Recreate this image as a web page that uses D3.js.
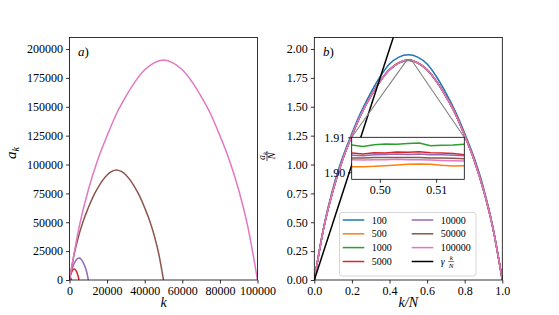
<!DOCTYPE html>
<html>
<head>
<meta charset="utf-8">
<script src="https://cdn.jsdelivr.net/npm/d3@7"></script>
<style>
  body { margin: 0; background: #fff; }
  svg text { font-family: "Liberation Serif", "DejaVu Serif", serif; fill: #000; }
</style>
</head>
<body>
<svg id="chart" width="559" height="315"></svg>
<script>
// --- data ---
const seriesN = [100, 500, 1000, 5000, 10000, 50000, 100000];
const seriesColors = ["#1f77b4", "#ff7f0e", "#2ca02c", "#d62728", "#9467bd", "#8c564b", "#e377c2"];

// k/N grid and a_k/N for the main panels
const kOverN = [0, 0.05, 0.1, 0.15, 0.2, 0.25, 0.3, 0.35, 0.4, 0.45, 0.5, 0.55, 0.6, 0.65, 0.7, 0.75, 0.8, 0.85, 0.9, 0.95, 1];
const ratio100 = [0, 0.46, 0.80, 1.06, 1.27, 1.46, 1.62, 1.76, 1.87, 1.93, 1.95, 1.93, 1.87, 1.76, 1.62, 1.46, 1.27, 1.06, 0.80, 0.46, 0];
const ratio500 = [0, 0.45, 0.78, 1.04, 1.25, 1.44, 1.595, 1.725, 1.825, 1.885, 1.902, 1.883, 1.822, 1.72, 1.59, 1.44, 1.25, 1.04, 0.78, 0.45, 0];
const ratioLarge = [0, 0.45, 0.78, 1.04, 1.25, 1.44, 1.59, 1.72, 1.82, 1.88, 1.905, 1.88, 1.82, 1.72, 1.59, 1.44, 1.25, 1.04, 0.78, 0.45, 0];
const gamma = 5;

// zoomed inset near the maximum
const insetK = [0.495, 0.497, 0.499, 0.501, 0.503, 0.505, 0.507, 0.509, 0.511, 0.513, 0.515];
const inset500 = [1.9016, 1.9016, 1.9017, 1.9019, 1.9021, 1.9023, 1.9024, 1.9023, 1.9020, 1.9018, 1.9019];
const inset1000 = [1.9078, 1.9074, 1.9079, 1.9081, 1.9080, 1.9082, 1.9084, 1.9076, 1.9077, 1.9078, 1.9080];
const inset5000 = [1.9055, 1.9052, 1.9056, 1.9055, 1.9058, 1.9057, 1.9059, 1.9056, 1.9055, 1.9054, 1.9050];
const inset10000 = [1.9049, 1.9047, 1.9050, 1.9051, 1.9052, 1.9051, 1.9052, 1.9050, 1.9050, 1.9049, 1.9047];
const inset50000 = [1.9041, 1.9041, 1.9042, 1.9042, 1.9042, 1.9042, 1.9042, 1.9041, 1.9041, 1.9040, 1.9039];
const inset100000 = [1.9036, 1.9035, 1.9036, 1.9036, 1.9037, 1.9036, 1.9036, 1.9035, 1.9034, 1.9033, 1.9032];

// tick labels
const leftXTicks = [0, 20000, 40000, 60000, 80000, 100000];
const leftYTicks = [0, 25000, 50000, 75000, 100000, 125000, 150000, 175000, 200000];
const rightXTicks = [0, 0.2, 0.4, 0.6, 0.8, 1.0];
const rightYTicks = [0, 0.25, 0.5, 0.75, 1.0, 1.25, 1.5, 1.75, 2.0];
const insetXTicks = [0.50, 0.51];
const insetYTicks = [1.90, 1.91];

const mainRatios = [ratio100, ratio500, ratioLarge, ratioLarge, ratioLarge, ratioLarge, ratioLarge];
const insetRatios = [null, inset500, inset1000, inset5000, inset10000, inset50000, inset100000];

const serif = '"Liberation Serif", "DejaVu Serif", serif';
const svg = d3.select("#chart");
const plotTop = 37.5, plotBottom = 280;

// helper: draws box + axes
const drawAxes = (g, x, y, xTicks, yTicks, xFmt, yFmt, fs) => {
  const w = x.range()[1] - x.range()[0];
  const h = y.range()[0] - y.range()[1];
  const xa = g.append("g")
      .attr("transform", `translate(0,${y.range()[0]})`)
      .call(d3.axisBottom(x).tickValues(xTicks).tickFormat(xFmt).tickSize(3.5).tickPadding(3));
  const ya = g.append("g")
      .attr("transform", `translate(${x.range()[0]},0)`)
      .call(d3.axisLeft(y).tickValues(yTicks).tickFormat(yFmt).tickSize(3.5).tickPadding(3));
  [xa, ya].forEach(a => {
    a.attr("font-family", serif).attr("font-size", fs);
    a.select(".domain").remove();
    a.selectAll("line").attr("stroke", "#000").attr("stroke-width", 0.8);
    a.selectAll("text").style("font-family", serif).attr("fill", "#000");
  });
  g.append("rect")
      .attr("x", x.range()[0]).attr("y", y.range()[1])
      .attr("width", w).attr("height", h)
      .attr("fill", "none").attr("stroke", "#000").attr("stroke-width", 0.8);
};

const addClip = (id, x, y) => {
  svg.append("clipPath").attr("id", id).append("rect")
      .attr("x", x.range()[0]).attr("y", y.range()[1])
      .attr("width", x.range()[1] - x.range()[0])
      .attr("height", y.range()[0] - y.range()[1]);
};

// ---------------- panel a ----------------
const xA = d3.scaleLinear().domain([0, 100000]).range([69.5, 257.5]);
const yA = d3.scaleLinear().domain([0, 210000]).range([plotBottom, plotTop]);
addClip("clipA", xA, yA);
const gA = svg.append("g");
const curvesA = gA.append("g").attr("clip-path", "url(#clipA)");
seriesN.forEach((N, i) => {
  const pts = kOverN.map((k, j) => [k * N, mainRatios[i][j] * N]);
  curvesA.append("path")
      .datum(pts)
      .attr("fill", "none")
      .attr("stroke", seriesColors[i])
      .attr("stroke-width", 1.5)
      .attr("d", d3.line().x(d => xA(d[0])).y(d => yA(d[1])).curve(d3.curveMonotoneX));
});
drawAxes(gA, xA, yA, leftXTicks, leftYTicks, d3.format("d"), d3.format("d"), 12);
gA.append("text").attr("x", 78).attr("y", 56).attr("font-size", 13)
    .html('<tspan font-style="italic">a</tspan>)');
gA.append("text").attr("x", 163.5).attr("y", 307).attr("text-anchor", "middle")
    .attr("font-size", 14).attr("font-style", "italic").text("k");
gA.append("text").attr("transform", "translate(16,153) rotate(-90)").attr("text-anchor", "middle")
    .attr("font-size", 15)
    .html('<tspan font-style="italic">a</tspan><tspan font-style="italic" font-size="10" dy="3">k</tspan>');

// ---------------- panel b ----------------
const xB = d3.scaleLinear().domain([0, 1]).range([314.3, 502.3]);
const yB = d3.scaleLinear().domain([0, 2.1]).range([plotBottom, plotTop]);
addClip("clipB", xB, yB);
const gB = svg.append("g");
const curvesB = gB.append("g").attr("clip-path", "url(#clipB)");
seriesN.forEach((N, i) => {
  curvesB.append("path")
      .datum(kOverN.map((k, j) => [k, mainRatios[i][j]]))
      .attr("fill", "none")
      .attr("stroke", seriesColors[i])
      .attr("stroke-width", 1.5)
      .attr("d", d3.line().x(d => xB(d[0])).y(d => yB(d[1])).curve(d3.curveMonotoneX));
});
curvesB.append("path")
    .datum([[0, 0], [1, gamma]])
    .attr("fill", "none").attr("stroke", "#000").attr("stroke-width", 1.5)
    .attr("d", d3.line().x(d => xB(d[0])).y(d => yB(d[1])));

// inset
const xI = d3.scaleLinear().domain([0.495, 0.515]).range([351.7, 464.3]);
const yI = d3.scaleLinear().domain([1.898, 1.91]).range([179.3, 137.3]);
const zx0 = xB(xI.domain()[0]), zx1 = xB(xI.domain()[1]);
const zy0 = yB(yI.domain()[1]), zy1 = yB(yI.domain()[0]);
gB.append("rect").attr("x", zx0).attr("y", zy0).attr("width", zx1 - zx0).attr("height", zy1 - zy0)
    .attr("fill", "none").attr("stroke", "#808080").attr("stroke-width", 1);
gB.append("line").attr("x1", zx0).attr("y1", zy0).attr("x2", xI.range()[0]).attr("y2", yI.range()[1])
    .attr("stroke", "#808080").attr("stroke-width", 1.1);
gB.append("line").attr("x1", zx1).attr("y1", zy0).attr("x2", xI.range()[1]).attr("y2", yI.range()[1])
    .attr("stroke", "#808080").attr("stroke-width", 1.1);

drawAxes(gB, xB, yB, rightXTicks, rightYTicks, d3.format(".1f"), d3.format(".2f"), 12);

const gI = svg.append("g");
gI.append("rect").attr("x", xI.range()[0]).attr("y", yI.range()[1])
    .attr("width", xI.range()[1] - xI.range()[0]).attr("height", yI.range()[0] - yI.range()[1])
    .attr("fill", "#fff");
addClip("clipI", xI, yI);
const curvesI = gI.append("g").attr("clip-path", "url(#clipI)");
seriesN.forEach((N, i) => {
  if (!insetRatios[i]) return;
  curvesI.append("path")
      .datum(insetK.map((k, j) => [k, insetRatios[i][j]]))
      .attr("fill", "none")
      .attr("stroke", seriesColors[i])
      .attr("stroke-width", 1.5)
      .attr("d", d3.line().x(d => xI(d[0])).y(d => yI(d[1])));
});
drawAxes(gI, xI, yI, insetXTicks, insetYTicks, d3.format(".2f"), d3.format(".2f"), 12);

gB.append("text").attr("x", 323).attr("y", 56).attr("font-size", 13)
    .html('<tspan font-style="italic">b</tspan>)');
gB.append("text").attr("x", 408.3).attr("y", 307).attr("text-anchor", "middle")
    .attr("font-size", 14).attr("font-style", "italic").text("k/N");
const yLab = gB.append("g").attr("transform", "translate(267,156) rotate(-90)");
yLab.append("text").attr("x", 0).attr("y", -2.5).attr("text-anchor", "middle").attr("font-size", 10)
    .html('<tspan font-style="italic">a</tspan><tspan font-style="italic" font-size="7" dy="2">k</tspan>');
yLab.append("line").attr("x1", -5).attr("x2", 5).attr("y1", 0).attr("y2", 0)
    .attr("stroke", "#000").attr("stroke-width", 0.7);
yLab.append("text").attr("x", 0).attr("y", 8).attr("text-anchor", "middle")
    .attr("font-size", 10).attr("font-style", "italic").text("N");

// legend
const legend = svg.append("g");
legend.append("rect").attr("x", 339.5).attr("y", 212.5).attr("width", 136.5).attr("height", 63.5)
    .attr("rx", 2.5).attr("fill", "#fff").attr("fill-opacity", 0.8)
    .attr("stroke", "#cccccc").attr("stroke-width", 0.8);
const legendItems = seriesN.map((N, i) => ({ label: String(N), color: seriesColors[i] }))
    .concat([{ label: null, color: "#000" }]);
const rowY = [220, 233.8, 247.6, 261.5];
legendItems.forEach((d, i) => {
  const col = Math.floor(i / 4), row = i % 4;
  const lx = col === 0 ? 342.7 : 411.7;
  const ly = rowY[row];
  legend.append("line").attr("x1", lx).attr("x2", lx + 21.6).attr("y1", ly).attr("y2", ly)
      .attr("stroke", d.color).attr("stroke-width", 1.5);
  if (d.label) {
    legend.append("text").attr("x", lx + 29).attr("y", ly + 3.5).attr("font-size", 10).text(d.label);
  } else {
    legend.append("text").attr("x", lx + 29).attr("y", ly + 3.5).attr("font-size", 10)
        .attr("font-style", "italic").text("γ");
    legend.append("text").attr("x", lx + 39.5).attr("y", ly - 1.5).attr("text-anchor", "middle")
        .attr("font-size", 7).attr("font-style", "italic").text("k");
    legend.append("line").attr("x1", lx + 36.5).attr("x2", lx + 42.5).attr("y1", ly).attr("y2", ly)
        .attr("stroke", "#000").attr("stroke-width", 0.5);
    legend.append("text").attr("x", lx + 39.5).attr("y", ly + 6.5).attr("text-anchor", "middle")
        .attr("font-size", 7).attr("font-style", "italic").text("N");
  }
});
</script>
</body>
</html>
